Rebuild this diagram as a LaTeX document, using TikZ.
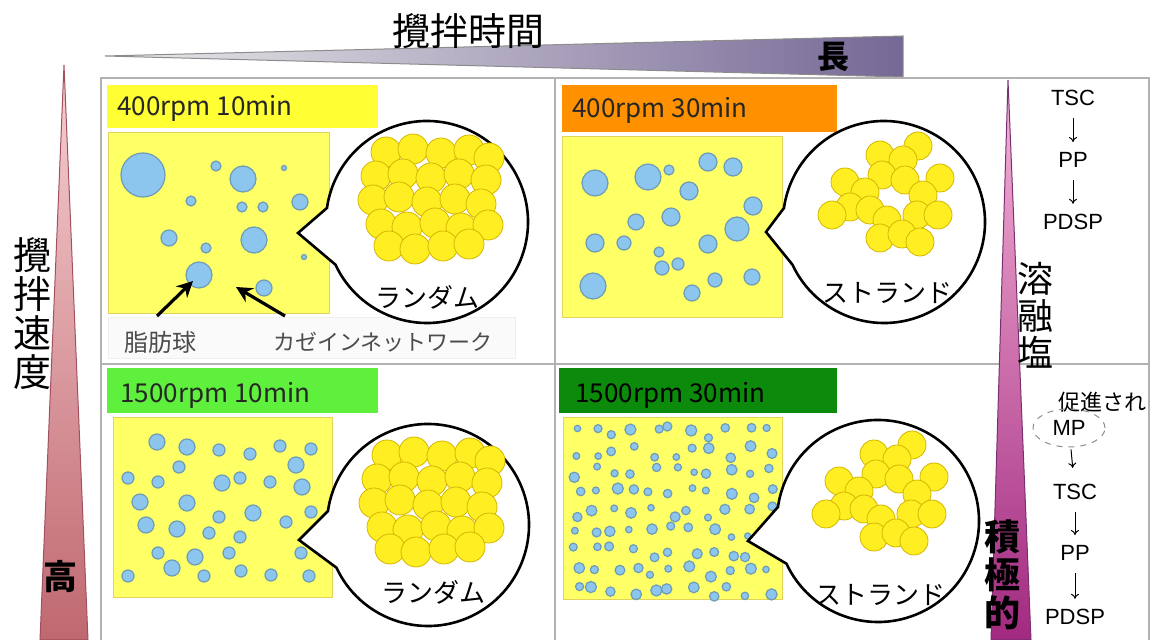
\documentclass[tikz,border=0pt]{standalone}
\usepackage{fontspec}
\setmainfont{Noto Sans CJK JP}
\newfontfamily\latinfont{Liberation Sans}
\usepackage{tikz}
\usetikzlibrary{arrows.meta, calc, shapes.geometric}

\definecolor{tagyellow}{HTML}{FFFF33}
\definecolor{tagorange}{HTML}{FF9100}
\definecolor{taglime}{HTML}{5EF03C}
\definecolor{taggreen}{HTML}{0C8A0C}
\definecolor{milk}{HTML}{FFFF66}
\definecolor{milkedge}{HTML}{E2D35A}
\definecolor{fatblue}{HTML}{8CC6EE}
\definecolor{fatedge}{HTML}{6C9CB6}
\definecolor{casein}{HTML}{FFEE22}
\definecolor{caseinedge}{HTML}{D4B600}
\definecolor{timemid}{HTML}{BEB2DE}
\definecolor{timeend}{HTML}{766896}
\definecolor{speedtop}{HTML}{F6D0D2}
\definecolor{speedend}{HTML}{C06870}
\definecolor{speededge}{HTML}{A05060}
\definecolor{salttop}{HTML}{F6B4D8}
\definecolor{saltend}{HTML}{A22A80}
\definecolor{saltedge}{HTML}{7A3070}

\tikzset{
  frameline/.style={draw=black!30, line width=0.6pt},
  sample/.style={fill=milk, draw=milkedge, line width=0.5pt},
  drop/.style={fill=fatblue, draw=fatedge, line width=0.6pt},
  ball/.style={fill=casein, draw=caseinedge, line width=0.4pt},
  lens/.style={fill=white, draw=black, line width=1.3pt},
  pointer/.style={-{Stealth[length=8pt,width=8pt]}, line width=1.6pt},
  flow/.style={-{To[length=2.5pt,width=4pt]}, line width=0.5pt},
  tag/.style={font=\fontsize{13}{15}\selectfont, text=black!85, inner sep=0pt, anchor=west},
  bigjp/.style={font=\fontsize{19}{19.5}\selectfont, align=center, inner sep=0pt},
  jp/.style={font=\fontsize{12}{13}\selectfont, inner sep=0pt},
  chem/.style={font=\latinfont\fontsize{11}{12}\selectfont, inner sep=0pt},
}

% magnifier circle with a spike towards the sample
\newcommand{\magnifier}[2]{%
  \draw[lens] ($(#1)+(188:101)$) -- (#2) -- ($(#1)+(155:101)$)
    arc[start angle=155, end angle=-172, radius=101] -- cycle;}

% packed casein balls
\newcommand{\randomballs}{%
  \foreach \bx/\by in {-41/-70,-14/-73,14/-69,42/-72,62/-64,
      -51/-46,-24/-48,4/-44,32/-48,59/-42,
      -54/-22,-28/-25,0/-20,28/-23,54/-18,
      -46/2,-20/5,8/1,34/6,61/3,
      -38/24,-12/27,16/24,42/22}
    \draw[ball] (\bx,\by) circle[radius=15];}

% casein balls in strands
\newcommand{\strandballs}{%
  \foreach \bx/\by in {34/-76,-4/-67,19/-62,-2/-47,21/-42,-39/-40,56/-44,
      -19/-30,39/-27,-34/-15,-14/-12,-52/-7,3/-2,33/-7,54/-7,
      -4/16,18/12,36/20}
    \draw[ball] (\bx,\by) circle[radius=14];}

\begin{document}
\begin{tikzpicture}[x=0.5pt, y=-0.5pt]
  \useasboundingbox (0,0) rectangle (1152,640);
  \clip (0,0) rectangle (1152,640);

  % stirring time wedge
  \shade[left color=black!8, middle color=timemid, right color=timeend]
    (105,56) -- (903,36) -- (903,77) -- cycle;
  \draw[black!45, line width=0.5pt] (105,56) -- (903,36) -- (903,77) -- cycle;
  \node[bigjp] (time) at (468,31) {攪拌時間};
  \node[font=\fontsize{16}{16}\selectfont\bfseries, inner sep=0pt] (long) at (833,57) {長};

  % stirring speed wedge
  \shade[top color=speedtop, bottom color=speedend]
    (64,65) -- (88,640) -- (40,640) -- cycle;
  \draw[speededge, line width=0.5pt] (64,65) -- (88,640) -- (40,640) -- cycle;
  \node[bigjp] (speed) at (32,314) {攪\\拌\\速\\度};
  \node[font=\fontsize{17}{17}\selectfont\bfseries, inner sep=0pt] (high) at (60,577) {高};

  % frame
  \draw[frameline] (101,78) rectangle (1149,660);
  \draw[frameline] (555,78) -- (555,660);
  \draw[frameline] (101,364) -- (1149,364);

  % 400rpm 10min
  \fill[tagyellow] (107,85) rectangle (378,128);
  \node[tag] (tagA) at (117,108) {400rpm 10min};
  \fill[black!2, draw=black!6] (108,317) rectangle (515,358);
  \filldraw[sample] (108,133) rectangle (329,314);
  \foreach \x/\y/\r in {143/175/22,216/166/5,243/179/13,284/168/2.5,191/201/5,
      242/207/5,263/207/5,300/202/8,169/238/8,206/248/5,254/240/13,
      304/257/2.5,199/275/13,264/288/8}
    \draw[drop] (\x,\y) circle[radius=\r];
  \coordinate (lensA) at (427,222);
  \coordinate (tipA) at (298,233);
  \magnifier{lensA}{tipA}
  \begin{scope}[shift={(427,222)}]
    \randomballs
  \end{scope}
  \node[jp, font=\fontsize{13}{14}\selectfont] (randA) at (427,297) {ランダム};
  \node[jp, text=black!70] (fat) at (160,342) {脂肪球};
  \node[jp, text=black!70, font=\fontsize{11}{12}\selectfont] (net) at (383,342) {カゼインネットワーク};
  \coordinate (globtail) at (157,316);
  \coordinate (globtip) at (193,281);
  \coordinate (nettail) at (285,316);
  \coordinate (nettip) at (236,287);
  \draw[pointer] (globtail) -- (globtip);
  \draw[pointer] (nettail) -- (nettip);

  % 400rpm 30min
  \fill[tagorange] (562,85) rectangle (837,132);
  \node[tag] (tagB) at (572,110) {400rpm 30min};
  \filldraw[sample] (562,137) rectangle (782,318);
  \foreach \x/\y/\r in {595/183/13,648/177/13,669/170/5,708/162/9,733/167/9,
      689/191/9,753/206/9,636/222/8,671/217/9,737/229/12,595/243/9,624/243/7,
      708/244/9,659/252/5,662/268/7,678/264/6,593/286/13,715/280/7,752/277/8,
      692/293/8}
    \draw[drop] (\x,\y) circle[radius=\r];
  \coordinate (lensB) at (884,222);
  \coordinate (tipB) at (766,232);
  \magnifier{lensB}{tipB}
  \begin{scope}[shift={(884,222)}]
    \strandballs
  \end{scope}
  \node[jp, font=\fontsize{13}{14}\selectfont] (strandB) at (887,293) {ストランド};

  % 1500rpm 10min
  \fill[taglime] (107,368) rectangle (378,413);
  \node[tag] (tagC) at (120,395) {1500rpm 10min};
  \filldraw[sample] (113,418) rectangle (332,598);
  \foreach \x/\y/\r in {157/442/8,187/447/8,219/450/6,250/454/6,280/446/6,
      311/449/6,179/467/6,296/465/8,128/478/6,158/482/6,222/483/8,240/478/6,
      270/482/6,302/487/8,140/502/8,187/503/8,253/513/8,219/517/6,311/512/6,
      146/525/8,177/529/8,209/533/6,240/537/6,286/522/6,158/553/6,195/557/8,
      229/553/6,301/553/6,172/568/8,128/576/6,204/576/6,241/571/6,271/575/6,
      309/576/6}
    \draw[drop] (\x,\y) circle[radius=\r];
  \coordinate (lensC) at (428,525);
  \coordinate (tipC) at (299,540);
  \magnifier{lensC}{tipC}
  \begin{scope}[shift={(428,525)}]
    \randomballs
  \end{scope}
  \node[jp, font=\fontsize{13}{14}\selectfont] (randC) at (433,592) {ランダム};

  % 1500rpm 30min
  \fill[taggreen] (559,368) rectangle (837,413);
  \node[tag, text=black] (tagD) at (575,395) {1500rpm 30min};
  \filldraw[sample] (563,418) rectangle (782,600);
  \pgfmathsetseed{42}
  \foreach \col in {0,...,10}
    \foreach \row in {0,...,8}{
      \pgfmathsetmacro{\dx}{576+\col*19.3+rand*6}
      \pgfmathsetmacro{\dy}{432+\row*20+rand*6}
      \pgfmathsetmacro{\dr}{3+rnd*2.6}
      \draw[drop] (\dx,\dy) circle[radius=\dr];
    }
  \coordinate (lensD) at (878,521);
  \coordinate (tipD) at (748,541);
  \magnifier{lensD}{tipD}
  \begin{scope}[shift={(878,521)}]
    \strandballs
  \end{scope}
  \node[jp, font=\fontsize{13}{14}\selectfont] (strandD) at (880,595) {ストランド};

  % melting salt wedge
  \shade[top color=salttop, bottom color=saltend]
    (1008,80) -- (1031,640) -- (991,640) -- cycle;
  \draw[saltedge, line width=0.5pt] (1008,80) -- (1031,640) -- (991,640) -- cycle;
  \node[bigjp, font=\fontsize{18}{18.5}\selectfont] (salt) at (1035,315) {溶\\融\\塩};
  \node[bigjp, font=\fontsize{18}{19}\selectfont\bfseries] (active) at (1002,575) {積\\極\\的};

  % reaction order, top
  \node[chem] (tscA) at (1073,98) {TSC};
  \node[chem] (ppA) at (1073,160) {PP};
  \node[chem] (pdspA) at (1073,222) {PDSP};
  \draw[flow, shorten <=6pt, shorten >=5pt] (tscA) -- (ppA);
  \draw[flow, shorten <=6pt, shorten >=5pt] (ppA) -- (pdspA);

  % reaction order, bottom
  \node[jp, font=\fontsize{11}{12}\selectfont] (promo) at (1102,402) {促進され};
  \node[chem, ellipse, draw=black!45, dashed, line width=0.5pt,
        minimum width=36pt, minimum height=19pt] (mp) at (1069,428) {MP};
  \node[chem] (tscB) at (1075,492) {TSC};
  \node[chem] (ppB) at (1075,553) {PP};
  \node[chem] (pdspB) at (1075,617) {PDSP};
  \draw[flow, shorten <=1pt, shorten >=8pt] (mp) -- (tscB);
  \draw[flow, shorten <=6pt, shorten >=5pt] (tscB) -- (ppB);
  \draw[flow, shorten <=6pt, shorten >=5pt] (ppB) -- (pdspB);
\end{tikzpicture}
\end{document}
